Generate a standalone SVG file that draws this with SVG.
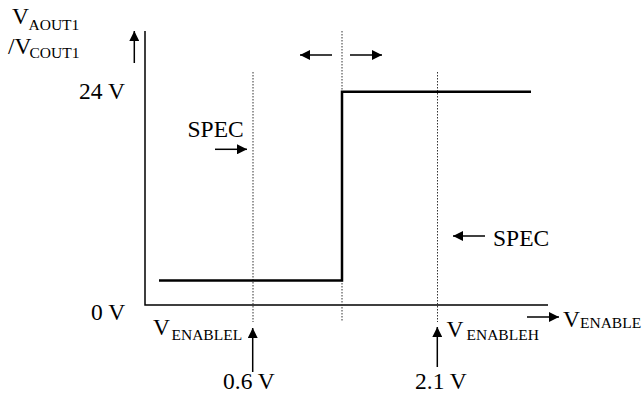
<svg xmlns="http://www.w3.org/2000/svg" width="644" height="397" viewBox="0 0 644 397">
<defs>
<marker id="ah" viewBox="0 0 10 10" refX="10" refY="5" markerWidth="10" markerHeight="10" markerUnits="userSpaceOnUse" orient="auto">
<path d="M0,0 L10,5 L0,10 z" fill="#000"/>
</marker>
</defs>
<style>
text{font-family:"Liberation Serif","Times New Roman",serif;fill:#000}
.m{font-size:23.5px}
.s{font-size:15.5px}
.ax{stroke:#000;stroke-width:1.5;fill:none}
.dot{stroke:#333;stroke-width:1;stroke-dasharray:1.5 1.5;fill:none}
.step{stroke:#000;stroke-width:2.5;fill:none}
.arr{stroke:#000;stroke-width:1.5;fill:none;marker-end:url(#ah)}
</style>
<rect width="644" height="397" fill="#fff"/>
<g id="axes">
<path class="ax" d="M145,31 V305 H548"/>
</g>
<g id="guides">
<path class="dot" d="M253,72 V322"/>
<path class="dot" d="M342,31 V322"/>
<path class="dot" d="M437.5,72 V322"/>
</g>
<g id="curve">
<path class="step" d="M159,280.5 H342 V91.7 H531"/>
</g>
<g id="connectors">
<path class="arr" d="M134.3,63 V31"/>
<path class="arr" d="M332,55 H300"/>
<path class="arr" d="M350,55 H382"/>
<path class="arr" d="M215,149.3 H247"/>
<path class="arr" d="M485,236 H453"/>
<path class="arr" d="M527,317 H559"/>
<path class="arr" d="M252.7,372 V328"/>
<path class="arr" d="M437.3,367 V327"/>
</g>
<g id="ylabel">
<text class="m" x="12" y="24">V</text><text class="s" x="28.5" y="29.5">AOUT1</text>
<text class="m" x="8" y="53.5">/V</text><text class="s" x="29.5" y="58">COUT1</text>
</g>
<g id="levels">
<text class="m" x="79" y="99">24 V</text>
<text class="m" x="91" y="320">0 V</text>
</g>
<g id="spec-left">
<text class="m" x="187.5" y="137">SPEC</text>
</g>
<g id="spec-right">
<text class="m" x="493" y="245.5">SPEC</text>
</g>
<g id="xlabel">
<text class="m" x="563" y="326.5">V</text><text class="s" x="580" y="328">ENABLE</text>
</g>
<g id="enablel">
<text class="m" x="153" y="335">V</text><text class="s" x="171.5" y="340">ENABLEL</text>
<text class="m" x="223" y="388.5">0.6 V</text>
</g>
<g id="enableh">
<text class="m" x="446.5" y="336.5">V</text><text class="s" x="466.5" y="339.5">ENABLEH</text>
<text class="m" x="415" y="389">2.1 V</text>
</g>
</svg>
